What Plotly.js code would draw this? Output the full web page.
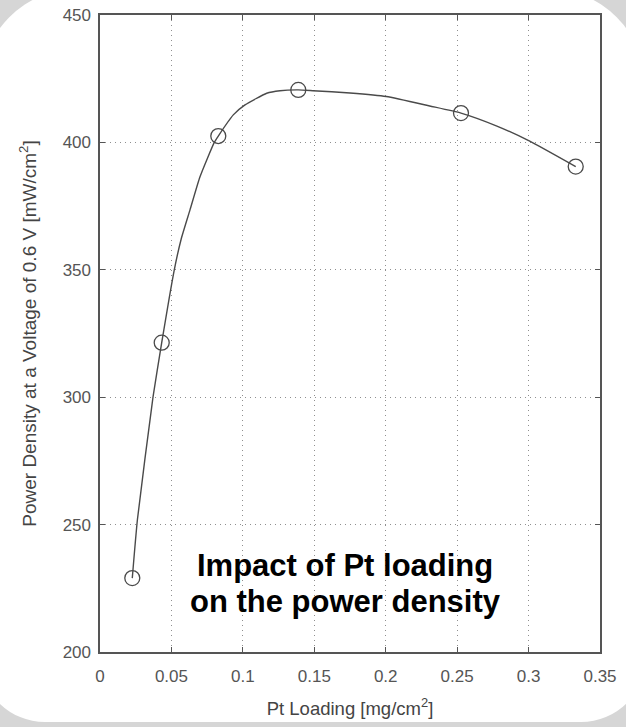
<!DOCTYPE html>
<html>
<head>
<meta charset="utf-8">
<script src="https://cdn.plot.ly/plotly-3.0.1.min.js"></script>
<style>
  html, body { margin: 0; padding: 0; width: 626px; height: 727px; overflow: hidden; background: #d6d6d6; }
  #bg { position: absolute; left: -20px; top: -12px; width: 666px; height: 734px; background: #ffffff;
        border-radius: 100px 100px 65px 65px; }
  #chart { position: absolute; left: 0; top: 0; width: 626px; height: 727px; }
</style>
</head>
<body>
<div id="bg"></div>
<div id="chart"></div>
<script>
// Measured data points (open circles)
const loadingX = [0.0226, 0.0432, 0.0828, 0.1388, 0.2527, 0.333];
const powerY   = [229, 321.4, 402.5, 420.6, 411.5, 390.5];

// Fitted curve
const fitX = [0.0226, 0.0262, 0.0371, 0.0432, 0.0520, 0.0568, 0.063, 0.070, 0.080, 0.0828, 0.0933, 0.1015,
              0.1167, 0.126, 0.1388, 0.149, 0.175, 0.2004, 0.2308, 0.2527, 0.2774, 0.3008, 0.333];
const fitY = [229, 252, 300, 321.4, 350, 362, 373.5, 386.5, 400, 402.5, 410.8, 414.7,
              419.3, 420.3, 420.6, 420.3, 419.4, 418, 414.3, 411.5, 406.5, 400.5, 390.5];

// Tick values / labels
const xTicks = [0, 0.05, 0.1, 0.15, 0.2, 0.25, 0.3, 0.35];
const xTickText = ['0', '0.05', '0.1', '0.15', '0.2', '0.25', '0.3', '0.35'];
const yTicks = [200, 250, 300, 350, 400, 450];
const yTickText = ['200', '250', '300', '350', '400', '450'];

const xTitle = 'Pt Loading [mg/cm<sup>2</sup>]';
const yTitle = 'Power Density at a Voltage of 0.6 V [mW/cm<sup>2</sup>]';
const noteLine1 = 'Impact of Pt loading';
const noteLine2 = 'on the power density';

const FONT = 'Liberation Sans, Arial, Helvetica, sans-serif';

const traces = [
  {
    x: fitX, y: fitY, type: 'scatter', mode: 'lines',
    line: { color: '#4a4a4a', width: 1.4, shape: 'spline', smoothing: 0.5 },
    hoverinfo: 'skip', showlegend: false
  },
  {
    x: loadingX, y: powerY, type: 'scatter', mode: 'markers',
    marker: { symbol: 'circle-open', size: 15, color: '#4a4a4a', line: { width: 1.3, color: '#4a4a4a' } },
    showlegend: false
  }
];

const axisCommon = {
  showline: true, linecolor: '#555555', linewidth: 1.6, mirror: 'ticks',
  ticks: 'inside', ticklen: 5, tickwidth: 1.2, tickcolor: '#555555',
  showgrid: true, gridcolor: '#8f8f8f', gridwidth: 1, griddash: '1px,4px',
  zeroline: false,
  tickfont: { family: FONT, size: 17, color: '#555555' },
  automargin: false
};

const layout = {
  width: 626, height: 727,
  margin: { l: 100, r: 26, t: 15, b: 75 },
  paper_bgcolor: 'rgba(0,0,0,0)',
  plot_bgcolor: '#ffffff',
  xaxis: Object.assign({}, axisCommon, {
    range: [0, 0.35], tickmode: 'array', tickvals: xTicks, ticktext: xTickText,
    ticklabelstandoff: 8,
    title: { text: xTitle, font: { family: FONT, size: 18.5, color: '#444444' }, standoff: 17 }
  }),
  yaxis: Object.assign({}, axisCommon, {
    range: [200, 450], tickmode: 'array', tickvals: yTicks, ticktext: yTickText,
    ticklabelstandoff: 4,
    title: { text: yTitle, font: { family: FONT, size: 19, color: '#444444' }, standoff: 21 }
  }),
  annotations: [
    { text: noteLine1, xref: 'x', yref: 'y', x: 0.1715, y: 234, showarrow: false,
      xanchor: 'center', yanchor: 'middle', font: { family: FONT, size: 31, color: '#000000', weight: 'bold' } },
    { text: noteLine2, xref: 'x', yref: 'y', x: 0.1715, y: 220, showarrow: false,
      xanchor: 'center', yanchor: 'middle', font: { family: FONT, size: 31, color: '#000000', weight: 'bold' } }
  ]
};

Plotly.newPlot('chart', traces, layout, { displayModeBar: false, staticPlot: true });
</script>
</body>
</html>
